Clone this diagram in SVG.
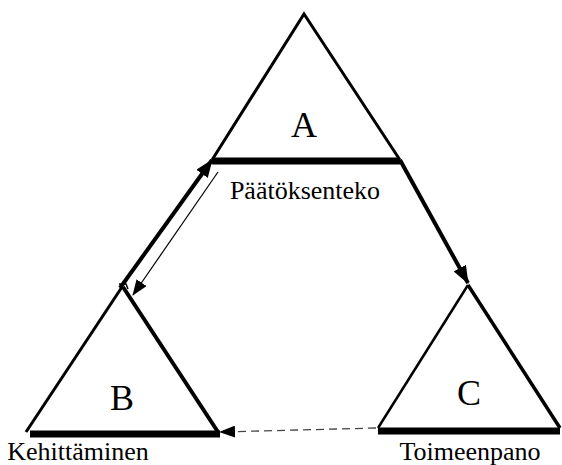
<svg xmlns="http://www.w3.org/2000/svg" width="562" height="465" viewBox="0 0 562 465">
<style>
  .tri { fill: none; stroke: #000; stroke-width: 3; stroke-linejoin: miter; }
  .base { stroke: #000; stroke-width: 7; }
  .big { font-family: "Liberation Serif", "Times New Roman", serif; font-size: 36px; fill: #000; }
  .lbl { font-family: "Liberation Serif", "Times New Roman", serif; font-size: 26px; fill: #000; }
  .thick { stroke: #000; stroke-width: 4; fill: none; }
  .thin { stroke: #000; stroke-width: 1.2; fill: none; }
  .dash { stroke: #444; stroke-width: 1.3; stroke-dasharray: 8 5; fill: none; }
</style>
<defs>
  <marker id="ah" markerUnits="userSpaceOnUse" markerWidth="18" markerHeight="14" refX="17" refY="7" orient="auto">
    <path d="M0,0 L18,7 L0,14 Z" fill="#000"/>
  </marker>
  <marker id="ahs" markerUnits="userSpaceOnUse" markerWidth="16" markerHeight="12" refX="15" refY="6" orient="auto">
    <path d="M0,0 L16,6 L0,12 Z" fill="#000"/>
  </marker>
</defs>

<g id="nodeA">
  <polyline class="tri" points="212,160 304,14 400,160"/>
  <line class="base" x1="212" y1="161" x2="400" y2="161"/>
  <text class="big" x="304" y="137" text-anchor="middle">A</text>
  <text class="lbl" x="305" y="199" text-anchor="middle">Päätöksenteko</text>
</g>

<g id="nodeB">
  <polyline class="tri" points="26,432 122,287"/>
  <polyline class="tri" style="stroke-width:4" points="123,287 218,432"/>
  <line class="base" x1="30" y1="434" x2="220" y2="434"/>
  <polyline class="thin" style="stroke-width:1.5" points="119,284 126,284 128,289"/>
  <text class="big" x="122" y="410" text-anchor="middle">B</text>
  <text class="lbl" x="78" y="460" text-anchor="middle">Kehittäminen</text>
</g>

<g id="nodeC">
  <polyline class="tri" style="stroke-width:2.5" points="378,428 468,285"/>
  <polyline class="tri" style="stroke-width:3.5" points="468,285 560,428"/>
  <line class="base" x1="378" y1="431" x2="560" y2="431"/>
  <text class="big" x="469" y="405" text-anchor="middle">C</text>
  <text class="lbl" x="470" y="460" text-anchor="middle">Toimeenpano</text>
</g>

<g id="connectors">
  <line class="thick" x1="400" y1="160" x2="468" y2="283" marker-end="url(#ah)"/>
  <line class="thick" x1="120" y1="288" x2="212" y2="160" marker-end="url(#ah)"/>
  <line class="thin" x1="218" y1="172" x2="133" y2="295" marker-end="url(#ahs)"/>
  <line class="dash" x1="376" y1="428" x2="220" y2="432" marker-end="url(#ahs)"/>
</g>
</svg>
